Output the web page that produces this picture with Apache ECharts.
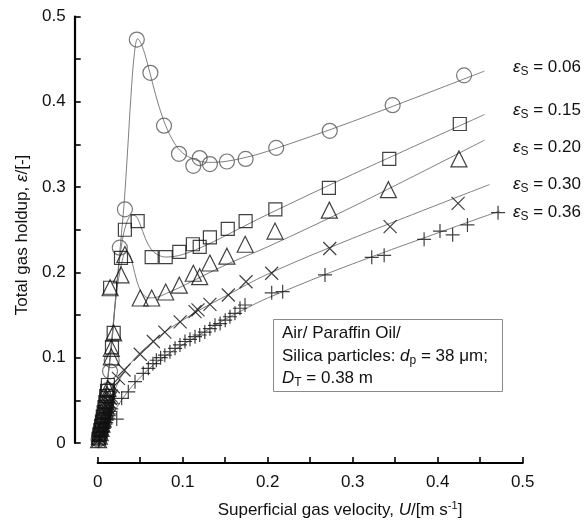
<!DOCTYPE html>
<html><head><meta charset="utf-8">
<script src="https://cdn.jsdelivr.net/npm/echarts@6.0.0/dist/echarts.min.js"></script>
<style>html,body{margin:0;padding:0;background:#fff}#c{width:584px;height:522px}</style>
</head><body><div id="c"></div>
<script>
const FONT = '"Liberation Sans", Arial, Helvetica, sans-serif';
const xTickLabels = ['0', '0.1', '0.2', '0.3', '0.4', '0.5'];
const yTickLabels = ['0', '0.1', '0.2', '0.3', '0.4', '0.5'];
const solidsHoldups = ['0.06', '0.15', '0.20', '0.30', '0.36'];

// measured points (U, eps)
const s006 = [[0.001,0.004],[0.002,0.008],[0.003,0.013],[0.004,0.017],[0.005,0.022],[0.006,0.027],[0.007,0.032],[0.008,0.037],[0.009,0.043],[0.010,0.048],[0.011,0.055],[0.012,0.062],[0.0145,0.084],[0.0165,0.097],[0.026,0.229],[0.032,0.274],[0.046,0.473],[0.062,0.434],[0.078,0.372],[0.0956,0.339],[0.1125,0.325],[0.120,0.334],[0.132,0.327],[0.152,0.330],[0.174,0.333],[0.210,0.346],[0.273,0.366],[0.347,0.396],[0.431,0.431]];
const s015 = [[0.001,0.005],[0.002,0.010],[0.003,0.015],[0.004,0.020],[0.005,0.025],[0.006,0.031],[0.007,0.036],[0.008,0.042],[0.009,0.048],[0.010,0.055],[0.011,0.061],[0.012,0.068],[0.0168,0.112],[0.0188,0.129],[0.0146,0.182],[0.0274,0.217],[0.032,0.250],[0.047,0.260],[0.0635,0.218],[0.080,0.218],[0.096,0.224],[0.112,0.233],[0.120,0.230],[0.132,0.241],[0.153,0.251],[0.174,0.260],[0.209,0.274],[0.272,0.299],[0.343,0.333],[0.426,0.374]];
const s020 = [[0.001,0.004],[0.002,0.008],[0.003,0.012],[0.004,0.017],[0.005,0.022],[0.006,0.028],[0.007,0.033],[0.008,0.039],[0.009,0.045],[0.010,0.051],[0.011,0.057],[0.012,0.064],[0.016,0.101],[0.016,0.111],[0.0188,0.129],[0.0146,0.182],[0.0274,0.197],[0.032,0.221],[0.050,0.170],[0.0635,0.170],[0.080,0.177],[0.096,0.185],[0.1125,0.199],[0.120,0.195],[0.132,0.211],[0.152,0.219],[0.1735,0.233],[0.2086,0.2485],[0.2725,0.273],[0.342,0.297],[0.425,0.333]];
const s030 = [[0.001,0.003],[0.002,0.006],[0.003,0.010],[0.004,0.013],[0.005,0.017],[0.006,0.020],[0.007,0.024],[0.008,0.027],[0.009,0.031],[0.010,0.034],[0.011,0.038],[0.012,0.041],[0.013,0.045],[0.014,0.048],[0.015,0.052],[0.016,0.055],[0.0184,0.066],[0.0243,0.0758],[0.031,0.0856],[0.050,0.104],[0.0655,0.119],[0.079,0.130],[0.097,0.142],[0.1145,0.154],[0.118,0.156],[0.132,0.1626],[0.1537,0.1735],[0.1745,0.189],[0.2047,0.199],[0.273,0.228],[0.344,0.2536],[0.424,0.281]];
const s036 = [[0.001,0.002],[0.002,0.004],[0.003,0.007],[0.004,0.009],[0.005,0.012],[0.006,0.014],[0.007,0.017],[0.008,0.019],[0.009,0.022],[0.010,0.024],[0.011,0.027],[0.012,0.029],[0.013,0.032],[0.014,0.034],[0.015,0.037],[0.016,0.040],[0.018,0.046],[0.0224,0.028],[0.0282,0.0524],[0.036,0.060],[0.0439,0.0719],[0.0536,0.0817],[0.0596,0.0876],[0.065,0.093],[0.069,0.097],[0.074,0.100],[0.079,0.103],[0.085,0.107],[0.091,0.111],[0.0968,0.115],[0.1027,0.119],[0.1086,0.1216],[0.1145,0.1246],[0.120,0.1266],[0.126,0.130],[0.132,0.134],[0.138,0.138],[0.144,0.140],[0.150,0.144],[0.1556,0.148],[0.1615,0.152],[0.1674,0.158],[0.1733,0.1618],[0.2047,0.176],[0.2176,0.1774],[0.2674,0.197],[0.3224,0.2177],[0.337,0.220],[0.384,0.2388],[0.4027,0.2485],[0.4176,0.244],[0.435,0.2556],[0.471,0.270]];

// fitted curves
const fit006 = [[0,0],[0.005,0.02],[0.01,0.06],[0.016,0.11],[0.022,0.18],[0.027,0.235],[0.031,0.28],[0.035,0.34],[0.039,0.405],[0.043,0.455],[0.047,0.474],[0.052,0.466],[0.058,0.447],[0.065,0.42],[0.072,0.395],[0.08,0.372],[0.09,0.352],[0.1,0.34],[0.115,0.332],[0.13,0.329],[0.15,0.330],[0.175,0.335],[0.2,0.342],[0.3,0.377],[0.455,0.436]];
const fit015 = [[0,0],[0.005,0.02],[0.01,0.06],[0.016,0.115],[0.022,0.18],[0.028,0.232],[0.034,0.258],[0.04,0.267],[0.045,0.266],[0.05,0.256],[0.056,0.24],[0.063,0.227],[0.07,0.221],[0.08,0.218],[0.1,0.221],[0.13,0.233],[0.16,0.248],[0.2,0.268],[0.3,0.315],[0.455,0.385]];
const fit020 = [[0,0],[0.005,0.02],[0.01,0.06],[0.016,0.115],[0.022,0.175],[0.028,0.21],[0.033,0.223],[0.037,0.222],[0.041,0.21],[0.046,0.19],[0.052,0.176],[0.06,0.170],[0.07,0.171],[0.08,0.175],[0.1,0.184],[0.13,0.199],[0.16,0.213],[0.2,0.23],[0.3,0.277],[0.455,0.355]];
const fit030 = [[0,0],[0.005,0.02],[0.01,0.037],[0.02,0.062],[0.03,0.082],[0.04,0.095],[0.05,0.106],[0.065,0.119],[0.08,0.131],[0.1,0.144],[0.12,0.156],[0.15,0.172],[0.2,0.198],[0.3,0.24],[0.461,0.303]];
const fit036 = [[0,0],[0.005,0.012],[0.01,0.022],[0.02,0.038],[0.03,0.053],[0.04,0.066],[0.055,0.082],[0.07,0.095],[0.09,0.109],[0.11,0.121],[0.13,0.133],[0.15,0.145],[0.175,0.158],[0.2,0.17],[0.3,0.21],[0.473,0.272]];

const ink = '#111';
const crossPath = 'path://M0,0L10,10M10,0L0,10';
const plusPath = 'path://M5,0L5,10M0,5L10,5';

function scatter(data, symbol, size, color) {
  return { type: 'scatter', data, symbol, symbolSize: size, clip: false, silent: true, z: 3,
    itemStyle: { color: 'transparent', borderColor: color || ink, borderWidth: 1.2 } };
}
function fit(data) {
  return { type: 'line', data, smooth: 0.35, symbol: 'none', showSymbol: false,
    clip: false, silent: true, z: 2, lineStyle: { color: '#707070', width: 0.9 } };
}
function labelFmt(arr) {
  return function (v) {
    const k = Math.round(v * 20);
    return k % 2 === 0 ? arr[k / 2] : '';
  };
}

const richBase = {
  i: { fontFamily: FONT, fontSize: 17, fontStyle: 'italic', lineHeight: 20, fill: '#111' },
  sub: { fontFamily: FONT, fontSize: 12, padding: [9, 0, 0, 0], lineHeight: 12, fill: '#111' },
  sup: { fontFamily: FONT, fontSize: 11, padding: [0, 0, 9, 0], lineHeight: 11, fill: '#111' }
};
const labelYs = [67, 110, 147, 184, 212];

const graphic = [];
solidsHoldups.forEach(function (v, i) {
  graphic.push({ type: 'text', x: 513, y: labelYs[i], silent: true,
    style: { text: '{i|ε}{sub|S} = ' + v, font: '17px ' + FONT, fill: '#111', verticalAlign: 'middle', align: 'left', rich: richBase } });
});
graphic.push({ type: 'rect', silent: true, shape: { x: 273.5, y: 319.5, width: 229, height: 72 },
  style: { fill: '#fff', stroke: '#8a8a8a', lineWidth: 1 } });
const boxLines = ['Air/ Paraffin Oil/', 'Silica particles: {i|d}{sub|p} = 38 μm;', '{i|D}{sub|T} = 0.38 m'];
const boxYs = [333, 356, 378];
boxLines.forEach(function (t, i) {
  graphic.push({ type: 'text', x: 282, y: boxYs[i], silent: true, z: 10,
    style: { text: t, font: '17px ' + FONT, fill: '#111', verticalAlign: 'middle', align: 'left', rich: richBase } });
});
graphic.push({ type: 'text', x: 340, y: 510, silent: true,
  style: { text: 'Superficial gas velocity, {i|U}/[m s{sup|-1}]', font: '17px ' + FONT, fill: '#111', align: 'center', verticalAlign: 'middle', rich: richBase } });
graphic.push({ type: 'text', x: 22, y: 235, rotation: Math.PI / 2, silent: true,
  style: { text: 'Total gas holdup, {i|ε}/[-]', font: '17px ' + FONT, fill: '#111', align: 'center', verticalAlign: 'middle', rich: richBase } });

const axisCommon = {
  type: 'value', min: 0, max: 0.5, interval: 0.05,
  splitLine: { show: false },
  axisLine: { show: true, onZero: false, lineStyle: { color: '#000', width: 2.2 } },
  axisTick: { show: true, inside: true, length: 6, lineStyle: { color: '#000', width: 1.6 } },
  minorTick: { show: false }
};

const option = {
  animation: false,
  backgroundColor: '#fff',
  grid: { left: 97.7, right: 61.3, top: 16.5, bottom: 79, outerBoundsMode: 'none', containLabel: false },
  xAxis: Object.assign({}, axisCommon, { offset: 20,
    axisLabel: { formatter: labelFmt(xTickLabels), color: '#111', fontFamily: FONT, fontSize: 17, margin: 11 } }),
  yAxis: Object.assign({}, axisCommon, { offset: 23,
    axisLabel: { formatter: labelFmt(yTickLabels), color: '#111', fontFamily: FONT, fontSize: 17, margin: 9 } }),
  graphic: graphic,
  series: [
    fit(fit006), fit(fit015), fit(fit020), fit(fit030), fit(fit036),
    scatter(s006, 'circle', 15, '#555'),
    scatter(s015, 'rect', 13),
    scatter(s020, 'triangle', 16),
    scatter(s030, crossPath, 13),
    scatter(s036, plusPath, 14)
  ]
};
const chart = echarts.init(document.getElementById('c'));
chart.setOption(option);
</script>
</body></html>
